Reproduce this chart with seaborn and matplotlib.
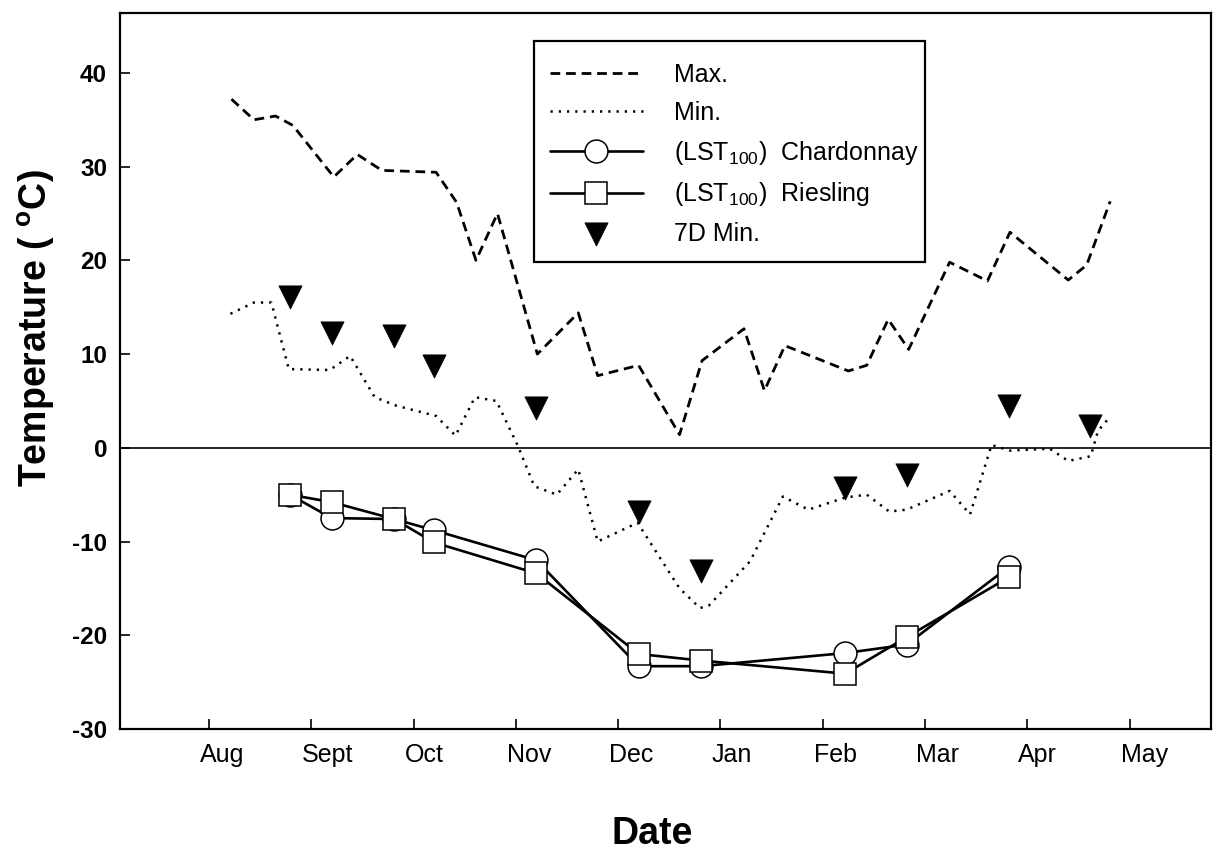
import numpy as np
import pandas as pd
import matplotlib
matplotlib.use("Agg")
import matplotlib.pyplot as plt
from matplotlib.transforms import ScaledTranslation
from matplotlib.patches import Rectangle
import seaborn as sns

# ---------------- data (x = months after 1 Aug) ----------------
month_labels = ["Aug", "Sept", "Oct", "Nov", "Dec", "Jan", "Feb", "Mar", "Apr", "May"]
month_ticks = list(range(len(month_labels)))

max_x = [0.22, 0.44, 0.65, 0.82, 1.22, 1.45, 1.69, 2.22, 2.42, 2.61, 2.82, 3.21, 3.61, 3.80, 4.20,
         4.60, 4.82, 5.23, 5.43, 5.63, 6.25, 6.43, 6.64, 6.84, 7.24, 7.61, 7.83, 8.40, 8.58, 8.81]
max_t = [37.2, 35.0, 35.4, 34.4, 28.9, 31.3, 29.6, 29.4, 26.2, 20.0, 25.0, 10.0, 14.4, 7.7, 8.8,
         1.4, 9.3, 12.7, 6.1, 10.9, 8.2, 8.8, 13.7, 10.5, 19.8, 17.8, 23.0, 17.9, 19.5, 26.3]

min_x = [0.21, 0.44, 0.61, 0.78, 1.18, 1.38, 1.62, 1.83, 2.22, 2.41, 2.60, 2.81, 3.02, 3.18, 3.40,
         3.61, 3.80, 4.19, 4.60, 4.80, 4.89, 5.29, 5.61, 5.86, 6.22, 6.43, 6.65, 6.82, 7.24, 7.44,
         7.65, 7.83, 8.22, 8.40, 8.62, 8.69, 8.80]
min_t = [14.3, 15.5, 15.5, 8.4, 8.3, 9.8, 5.4, 4.5, 3.4, 1.3, 5.4, 5.0, 0.2, -4.1, -5.0,
         -2.3, -10.0, -8.0, -15.0, -17.1, -16.8, -12.1, -5.2, -6.6, -5.3, -5.0, -6.8, -6.6, -4.6, -7.1,
         0.3, -0.3, -0.1, -1.4, -0.9, 1.8, 3.2]

sample_x = [0.79, 1.20, 1.81, 2.20, 3.20, 4.20, 4.81, 6.22, 6.82, 7.82]
chardonnay = [-5.0, -7.5, -7.6, -8.8, -12.0, -23.3, -23.3, -21.9, -21.0, -12.7]
riesling = [-5.0, -5.8, -7.6, -10.1, -13.4, -22.0, -22.7, -24.1, -20.2, -13.8]

min7_x = [0.79, 1.20, 1.81, 2.20, 3.20, 4.20, 4.81, 6.22, 6.82, 7.82, 8.61]
min7_t = [16.1, 12.2, 11.9, 8.7, 4.2, -6.8, -13.1, -4.3, -2.9, 4.5, 2.3]

df_max = pd.DataFrame({"month": max_x, "temp": max_t})
df_min = pd.DataFrame({"month": min_x, "temp": min_t})
df_ch = pd.DataFrame({"month": sample_x, "temp": chardonnay})
df_ri = pd.DataFrame({"month": sample_x, "temp": riesling})
df_7d = pd.DataFrame({"month": min7_x, "temp": min7_t})

# ---------------- style ----------------
sns.set_theme(style="white")
plt.rcParams["font.family"] = ["Liberation Sans", "DejaVu Sans"]
plt.rcParams["mathtext.fontset"] = "custom"
plt.rcParams["mathtext.rm"] = "Liberation Sans"
plt.rcParams["mathtext.it"] = "Liberation Sans:italic"
plt.rcParams["mathtext.bf"] = "Liberation Sans:bold"
for key in ["text.color", "axes.labelcolor", "xtick.color", "ytick.color", "axes.edgecolor"]:
    plt.rcParams[key] = "black"

fig = plt.figure(figsize=(12.14, 8.51), dpi=100)
ax = fig.add_axes([0.0985, 0.1434, 0.899, 0.8414])

ax.axhline(0, color="black", lw=1.2, zorder=1)

sns.lineplot(data=df_max, x="month", y="temp", ax=ax, color="black", lw=2.0,
             linestyle=(0, (3.5, 2.1)), label="Max.", estimator=None, sort=False)
sns.lineplot(data=df_min, x="month", y="temp", ax=ax, color="black", lw=1.8,
             linestyle=(0, (0.9, 2.4)), label="Min.", estimator=None, sort=False)
sns.lineplot(data=df_ch, x="month", y="temp", ax=ax, color="black", lw=1.9,
             marker="o", markersize=16.5, markerfacecolor="white", markeredgecolor="black",
             markeredgewidth=1.1, label=r"(LST$_{100}$)  Chardonnay", estimator=None, sort=False)
sns.lineplot(data=df_ri, x="month", y="temp", ax=ax, color="black", lw=1.9,
             marker="s", markersize=16.5, markerfacecolor="white", markeredgecolor="black",
             markeredgewidth=1.1, label=r"(LST$_{100}$)  Riesling", estimator=None, sort=False)
sns.scatterplot(data=df_7d, x="month", y="temp", ax=ax, color="black", marker="v",
                s=280, edgecolor="black", linewidth=0.5, label="7D Min.", zorder=5)

ax.set_xlim(-0.874, 9.795)
ax.set_ylim(-30, 46.4)

ax.set_xticks(month_ticks)
ax.set_xticklabels(month_labels, fontsize=18)
ax.set_yticks(range(-30, 41, 10))
ax.set_yticklabels([str(v) for v in range(-30, 41, 10)], fontsize=17.5, fontweight="bold")
ax.tick_params(axis="both", direction="in", length=7, width=1.2, colors="black",
               bottom=True, left=True, top=False, right=False)
ax.tick_params(axis="x", pad=10)
ax.tick_params(axis="y", pad=9)
offset = ScaledTranslation(-0.09, 0, fig.dpi_scale_trans)
for lab in ax.get_xticklabels():
    lab.set_horizontalalignment("left")
    lab.set_transform(lab.get_transform() + offset)

for sp in ax.spines.values():
    sp.set_visible(True)
    sp.set_color("black")
    sp.set_linewidth(1.6)

ax.set_xlabel("Date", fontsize=27, fontweight="bold")
ax.set_ylabel(r"Temperature ( $^{\mathbf{o}}$C)", fontsize=27, fontweight="bold")
ax.xaxis.set_label_coords(0.488, -0.121)
ax.yaxis.set_label_coords(-0.057, 0.56)

# legend frame drawn as a box in axes coordinates, legend entries inside it
frame = Rectangle((0.3797, 0.652), 0.3583, 0.309, transform=ax.transAxes,
                  facecolor="white", edgecolor="black", lw=1.6, zorder=6)
ax.add_patch(frame)
handles, labels = ax.get_legend_handles_labels()
leg = ax.legend(handles, labels, loc="upper left", bbox_to_anchor=(0.3944, 0.930),
                fontsize=18, frameon=False, handlelength=3.7, handletextpad=1.25,
                borderpad=0, labelspacing=0.55, borderaxespad=0)
leg.set_zorder(7)

fig.savefig("out.png", dpi=100)
